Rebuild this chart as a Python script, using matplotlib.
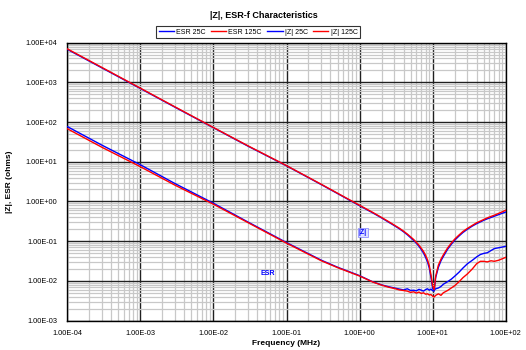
import matplotlib
matplotlib.use("Agg")
import matplotlib.pyplot as plt
from matplotlib.ticker import FixedLocator, LogLocator, NullFormatter, FuncFormatter

plt.rcParams['font.family'] = ['Liberation Sans', 'DejaVu Sans']

freq = [1e-4, 3e-4, 1e-3, 3e-3, 1e-2, 3e-2, 1e-1, 0.3, 0.5, 1, 1.5, 2, 2.5, 3, 3.5,
        4, 4.5, 5, 5.5, 6, 6.5, 7, 7.5, 8, 8.5, 9, 9.5, 10, 10.5, 11, 12, 13, 14,
        16, 18, 20, 23, 26, 30, 35, 40, 45, 50, 56, 63, 70, 80, 90, 100]

esr_25 = [77, 26, 8.4, 2.8, 0.9, 0.3, 0.092, 0.033, 0.022, 0.0135, 0.0095, 0.0079,
          0.0071, 0.0066, 0.0062, 0.0059, 0.0063, 0.0057, 0.0058, 0.0056, 0.0061,
          0.0058, 0.0055, 0.0060, 0.0063, 0.0058, 0.0062, 0.0056, 0.0058, 0.0063,
          0.0066, 0.0072, 0.0082, 0.0095, 0.011, 0.013, 0.0165, 0.021, 0.027,
          0.033, 0.040, 0.046, 0.049, 0.051, 0.058, 0.065, 0.068, 0.071, 0.074]

esr_125 = [68, 23, 7.5, 2.55, 0.85, 0.29, 0.089, 0.032, 0.0215, 0.0132, 0.0094,
           0.0078, 0.0069, 0.0064, 0.0059, 0.0057, 0.0055, 0.0051, 0.0053, 0.0049,
           0.0052, 0.0048, 0.0050, 0.0046, 0.0047, 0.0044, 0.0045, 0.0041, 0.0039,
           0.0043, 0.0047, 0.0043, 0.0050, 0.0057, 0.0066, 0.0075, 0.0095, 0.012,
           0.015, 0.020, 0.027, 0.031, 0.031, 0.030, 0.032, 0.031, 0.033, 0.036, 0.039]

z_25 = [6800, 2300, 700, 235, 72, 24.5, 7.9, 2.65, 1.58, 0.78, 0.52, 0.385, 0.30,
        0.245, 0.205, 0.172, 0.145, 0.122, 0.104, 0.088, 0.074, 0.061, 0.050, 0.039,
        0.030, 0.021, 0.012, 0.0065, 0.0055, 0.012, 0.022, 0.032, 0.041, 0.062,
        0.083, 0.105, 0.135, 0.165, 0.20, 0.24, 0.275, 0.305, 0.335, 0.365, 0.395,
        0.425, 0.465, 0.505, 0.54]

z_125 = [7000, 2360, 715, 240, 73, 25, 8.0, 2.7, 1.61, 0.80, 0.535, 0.395, 0.31,
         0.252, 0.212, 0.178, 0.151, 0.128, 0.110, 0.093, 0.079, 0.066, 0.055, 0.044,
         0.034, 0.024, 0.014, 0.0075, 0.0060, 0.013, 0.025, 0.035, 0.045, 0.067,
         0.089, 0.112, 0.143, 0.175, 0.21, 0.25, 0.29, 0.32, 0.35, 0.385, 0.42,
         0.45, 0.50, 0.55, 0.60]

x_ticks = [1e-4, 1e-3, 1e-2, 1e-1, 1e0, 1e1, 1e2]
y_ticks = [1e-3, 1e-2, 1e-1, 1e0, 1e1, 1e2, 1e3, 1e4]

fig = plt.figure(figsize=(5.26, 3.5), dpi=100)
ax = fig.add_axes([67.3 / 526, 1 - 320.5 / 350, (505.7 - 67.3) / 526, (320.5 - 42.7) / 350])

ax.plot(freq, esr_25, color='#0000ff', lw=1.0, label='ESR 25C', zorder=3)
ax.plot(freq, esr_125, color='#ff0000', lw=1.0, label='ESR 125C', zorder=3)
ax.plot(freq, z_25, color='#0000ff', lw=1.0, label='|Z| 25C', zorder=3)
ax.plot(freq, z_125, color='#ff0000', lw=1.0, label='|Z| 125C', zorder=3)

ax.set_xscale('log')
ax.set_yscale('log')
ax.set_xlim(1e-4, 1e2)
ax.set_ylim(1e-3, 1e4)

fmt = FuncFormatter(lambda v, p: f"{v:.2E}")
ax.xaxis.set_major_locator(FixedLocator(x_ticks))
ax.yaxis.set_major_locator(FixedLocator(y_ticks))
ax.xaxis.set_major_formatter(fmt)
ax.yaxis.set_major_formatter(fmt)
ax.xaxis.set_minor_locator(LogLocator(base=10, subs=range(2, 10), numticks=20))
ax.yaxis.set_minor_locator(LogLocator(base=10, subs=range(2, 10), numticks=20))
ax.xaxis.set_minor_formatter(NullFormatter())
ax.yaxis.set_minor_formatter(NullFormatter())
ax.tick_params(which='both', length=0)
ax.tick_params(axis='x', labelsize=5.3, pad=7)
ax.tick_params(axis='y', labelsize=5.3, pad=7)

ax.grid(which='minor', color='#c8c8c8', lw=0.9, zorder=0)
ax.grid(which='major', color='#202020', lw=1.0, zorder=1)
ax.set_axisbelow(True)
for s in ax.spines.values():
    s.set_color('black')
    s.set_linewidth(1.0)

ax.set_xlabel('Frequency (MHz)', fontsize=6, fontweight='bold', labelpad=2)
ax.set_ylabel('|Z|, ESR (ohms)', fontsize=6, fontweight='bold', labelpad=9)

fig.text(0.502, 1 - 15 / 350, '|Z|, ESR-f Characteristics', ha='center', va='center',
         fontsize=6.5, fontweight='bold')

leg = fig.legend(loc='center', bbox_to_anchor=(258 / 526, 1 - 32 / 350), ncol=4,
                 fontsize=5, frameon=True, fancybox=False, edgecolor='black',
                 handlelength=2.2, handletextpad=0.3, columnspacing=0.8,
                 borderpad=0.35, borderaxespad=0)
leg.get_frame().set_linewidth(0.8)

ax.text(1.11, 0.164, '|Z|', color='#0000ff', fontsize=5, fontweight='bold',
        ha='center', va='center',
        bbox=dict(boxstyle='square,pad=0.1', fc='#dde0ff', ec='#8080ff', lw=0.5))
ax.text(0.056, 0.0149, 'ESR', color='#0000ff', fontsize=5, fontweight='bold',
        ha='center', va='center')

fig.savefig('out.png', dpi=100)
